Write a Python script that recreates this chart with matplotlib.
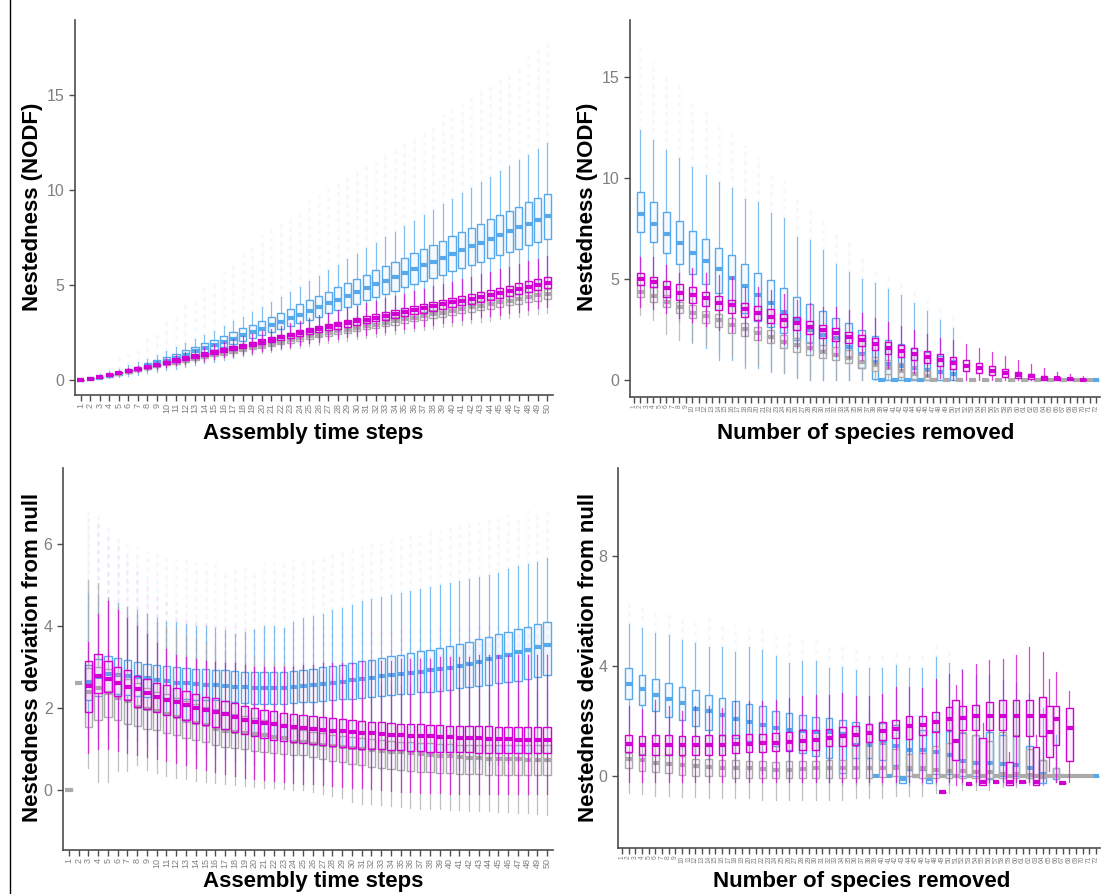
import matplotlib
matplotlib.use('Agg')
import matplotlib.pyplot as plt
from matplotlib.colors import to_rgba
from matplotlib.lines import Line2D

plt.rcParams['font.family'] = ['Liberation Sans', 'DejaVu Sans']

BLUE = '#58A8EC'
MAG = '#D200D2'
GRAY = '#ABABAB'

# ---------------- Panel A: NODF vs assembly time steps ----------------
A_cats = list(range(1, 51))
A_blue_med = [0.0,0.05,0.12,0.22,0.33,0.45,0.58,0.72,0.87,1.02,1.18,1.34,1.5,1.66,1.83,2.0,2.17,2.35,2.53,2.71,2.89,3.07,3.25,3.44,3.63,3.83,4.03,4.23,4.43,4.63,4.83,5.03,5.23,5.43,5.63,5.83,6.03,6.23,6.43,6.63,6.83,7.03,7.23,7.43,7.63,7.83,8.03,8.23,8.43,8.63]
A_blue_q1 = [0.0,0.03,0.08,0.16,0.25,0.36,0.47,0.6,0.73,0.86,1.0,1.14,1.28,1.42,1.57,1.72,1.87,2.03,2.19,2.35,2.51,2.67,2.83,3.0,3.17,3.34,3.51,3.68,3.85,4.02,4.19,4.36,4.53,4.7,4.87,5.04,5.21,5.38,5.55,5.72,5.89,6.06,6.23,6.4,6.57,6.74,6.91,7.08,7.25,7.42]
A_blue_q3 = [0.0,0.08,0.17,0.29,0.42,0.56,0.71,0.87,1.04,1.21,1.39,1.57,1.75,1.94,2.13,2.32,2.52,2.72,2.92,3.13,3.34,3.55,3.76,3.98,4.2,4.42,4.65,4.87,5.1,5.32,5.54,5.77,5.99,6.22,6.44,6.66,6.89,7.11,7.34,7.56,7.78,8.01,8.23,8.46,8.68,8.9,9.13,9.35,9.58,9.8]
A_blue_hi = [0.0,0.15,0.3,0.45,0.6,0.78,0.95,1.13,1.32,1.52,1.72,1.93,2.15,2.37,2.6,2.84,3.08,3.33,3.58,3.84,4.1,4.36,4.63,4.9,5.2,5.48,5.77,6.06,6.35,6.64,6.93,7.22,7.51,7.8,8.09,8.38,8.67,8.96,9.25,9.54,9.83,10.12,10.41,10.7,10.99,11.28,11.57,11.86,12.15,12.5]
A_blue_lo = [0.0,0.0,0.03,0.08,0.14,0.2,0.27,0.35,0.43,0.51,0.6,0.69,0.78,0.87,0.97,1.07,1.17,1.27,1.38,1.48,1.59,1.69,1.8,1.91,2.02,2.13,2.24,2.35,2.46,2.57,2.68,2.79,2.9,3.01,3.12,3.23,3.34,3.45,3.56,3.67,3.78,3.89,4.0,4.11,4.22,4.33,4.44,4.55,4.66,4.77]
A_blue_out = [0.0,0.3,0.6,0.9,1.2,1.5,1.8,2.2,2.7,3.2,3.6,4.0,4.4,4.8,5.2,5.7,6.1,6.6,7.1,7.6,8.0,8.3,8.7,9.0,9.4,9.7,10.1,10.4,10.7,11.0,11.3,11.6,11.9,12.2,12.6,12.9,13.2,13.5,13.9,14.2,14.5,14.9,15.2,15.6,15.9,16.3,16.6,17.0,17.4,17.8]

A_mag_med = [0.0,0.06,0.16,0.28,0.38,0.48,0.58,0.69,0.8,0.92,1.03,1.14,1.25,1.36,1.47,1.58,1.69,1.8,1.91,2.02,2.13,2.24,2.35,2.46,2.57,2.68,2.78,2.88,2.98,3.08,3.18,3.28,3.38,3.48,3.58,3.68,3.78,3.88,3.98,4.08,4.18,4.28,4.38,4.48,4.58,4.69,4.8,4.91,5.02,5.13]
A_mag_q1 = [0.0,0.05,0.15,0.26,0.36,0.45,0.55,0.65,0.75,0.86,0.97,1.07,1.18,1.28,1.38,1.49,1.59,1.69,1.8,1.9,2.0,2.11,2.21,2.31,2.42,2.52,2.61,2.71,2.8,2.9,2.99,3.08,3.18,3.27,3.37,3.46,3.55,3.65,3.74,3.84,3.93,4.02,4.12,4.21,4.31,4.41,4.51,4.62,4.72,4.82]
A_mag_q3 = [0.0,0.07,0.17,0.3,0.4,0.51,0.61,0.73,0.85,0.98,1.09,1.21,1.33,1.44,1.56,1.67,1.79,1.91,2.02,2.14,2.26,2.37,2.49,2.61,2.72,2.84,2.95,3.05,3.16,3.26,3.37,3.48,3.58,3.69,3.79,3.9,4.01,4.11,4.22,4.32,4.43,4.54,4.64,4.75,4.85,4.97,5.09,5.2,5.32,5.44]
A_mag_lo = [0.0,0.04,0.12,0.21,0.29,0.36,0.44,0.52,0.6,0.69,0.77,0.86,0.94,1.02,1.1,1.19,1.27,1.35,1.43,1.52,1.6,1.68,1.76,1.85,1.93,2.01,2.09,2.16,2.24,2.31,2.39,2.46,2.54,2.61,2.69,2.76,2.84,2.91,2.99,3.06,3.14,3.21,3.29,3.36,3.44,3.52,3.6,3.68,3.77,3.85]
A_mag_hi = [0.0,0.08,0.2,0.36,0.48,0.61,0.74,0.88,1.02,1.17,1.31,1.45,1.59,1.73,1.87,2.01,2.15,2.29,2.43,2.57,2.71,2.84,2.98,3.12,3.26,3.4,3.53,3.66,3.78,3.91,4.04,4.17,4.29,4.42,4.55,4.67,4.8,4.93,5.05,5.18,5.31,5.44,5.56,5.69,5.82,5.96,6.1,6.24,6.38,6.52]

A_gray_med = [0.0,0.05,0.14,0.24,0.33,0.42,0.52,0.62,0.72,0.82,0.92,1.02,1.12,1.22,1.32,1.42,1.52,1.62,1.72,1.81,1.91,2.0,2.1,2.19,2.29,2.38,2.47,2.56,2.65,2.74,2.83,2.92,3.01,3.1,3.19,3.28,3.37,3.46,3.55,3.64,3.73,3.82,3.91,4.0,4.09,4.18,4.27,4.36,4.45,4.54]
A_gray_q1 = [0.0,0.05,0.13,0.23,0.31,0.39,0.49,0.58,0.68,0.77,0.86,0.96,1.05,1.15,1.24,1.33,1.43,1.52,1.62,1.7,1.8,1.88,1.97,2.06,2.15,2.24,2.32,2.41,2.49,2.58,2.66,2.74,2.83,2.91,3.0,3.08,3.17,3.25,3.34,3.42,3.51,3.59,3.68,3.76,3.84,3.93,4.01,4.1,4.18,4.27]
A_gray_q3 = [0.0,0.05,0.15,0.25,0.35,0.45,0.55,0.66,0.76,0.87,0.98,1.08,1.19,1.29,1.4,1.51,1.61,1.72,1.82,1.92,2.02,2.12,2.23,2.32,2.43,2.52,2.62,2.71,2.81,2.9,3.0,3.1,3.19,3.29,3.38,3.48,3.57,3.67,3.76,3.86,3.95,4.05,4.14,4.24,4.34,4.43,4.53,4.62,4.72,4.81]
A_gray_lo = [0.0,0.04,0.11,0.19,0.26,0.33,0.41,0.48,0.56,0.64,0.72,0.8,0.87,0.95,1.03,1.11,1.19,1.26,1.34,1.41,1.49,1.56,1.64,1.71,1.79,1.86,1.93,2.0,2.07,2.14,2.21,2.28,2.35,2.42,2.49,2.56,2.63,2.7,2.77,2.84,2.91,2.98,3.05,3.12,3.19,3.26,3.33,3.4,3.47,3.54]
A_gray_hi = [0.0,0.06,0.17,0.29,0.4,0.5,0.62,0.74,0.86,0.98,1.1,1.22,1.34,1.46,1.58,1.7,1.82,1.94,2.06,2.17,2.29,2.4,2.52,2.63,2.75,2.86,2.96,3.07,3.18,3.29,3.4,3.5,3.61,3.72,3.83,3.94,4.04,4.15,4.26,4.37,4.48,4.58,4.69,4.8,4.91,5.02,5.12,5.23,5.34,5.45]

# ---------------- Panel B: NODF vs species removed ----------------
B_blue_cats = [2,4,6,8,10,12,14,16,18,20,22,24,26,28,30,32,34,36,38,40,42,44,46,48,50,39,41,43,45,72]
B_blue_med = [8.21,7.73,7.24,6.78,6.28,5.92,5.49,5.07,4.66,4.2,3.8,3.36,2.97,2.48,2.23,2.07,1.65,1.3,0.9,0.8,0.7,0.6,0.5,0.4,0.3,0,0,0,0,0]
B_blue_q1 = [7.35,6.83,6.28,5.73,5.24,4.74,4.3,3.83,3.3,2.94,2.64,2.31,1.98,1.82,1.49,1.3,1.1,0.6,0.05,0,0,0,0,0,0,0,0,0,0,0]
B_blue_q3 = [9.34,8.81,8.33,7.9,7.4,6.98,6.56,6.18,5.74,5.32,4.96,4.58,4.13,3.77,3.44,3.06,2.81,2.5,2.2,2.0,1.8,1.6,1.4,1.2,1.0,0,0,0,0,0]
B_blue_hi = [12.4,11.9,11.4,11.0,10.57,10.16,9.83,9.5,8.96,8.84,8.26,8.02,7.1,6.94,6.45,5.75,5.37,5.0,4.8,4.5,4.2,3.8,3.4,3.0,2.6,0,0,0,0,0]
B_blue_lo = [5.0,4.3,3.6,2.9,1.9,1.6,1.0,1.0,0.6,0.6,0.41,0.33,0.1,0,0,0,0,0,0,0,0,0,0,0,0,0,0,0,0,0]
B_blue_out = [16.5,15.8,15.2,14.6,14.0,13.4,12.8,12.2,11.6,11.0,10.4,9.8,9.2,8.6,8.0,7.4,6.8,6.2,5.6,5.2,4.8,4.4,4.0,3.6,3.2,0,0,0,0,0]

B_mag_cats = [2,4,6,8,10,12,14,16,18,20,22,24,26,28,30,32,34,36,38,40,42,44,46,48,50,52,54,56,58,60,62,64,66,68,70]
B_mag_med = [4.99,4.84,4.58,4.33,4.21,4.05,3.8,3.72,3.5,3.3,3.14,2.97,2.81,2.64,2.48,2.31,2.15,2.0,1.8,1.6,1.45,1.3,1.15,1.0,0.85,0.7,0.6,0.45,0.35,0.25,0.18,0.12,0.08,0.05,0.02]
B_mag_q1 = [4.71,4.6,4.13,3.97,3.8,3.68,3.47,3.3,3.14,2.97,2.81,2.64,2.48,2.26,2.1,1.95,1.85,1.7,1.5,1.3,1.15,1.0,0.85,0.7,0.55,0.45,0.35,0.25,0.15,0.1,0.05,0.02,0.0,0.0,0.0]
B_mag_q3 = [5.29,5.09,4.92,4.74,4.63,4.38,4.16,3.97,3.8,3.67,3.5,3.27,3.11,2.93,2.73,2.56,2.4,2.25,2.1,1.9,1.75,1.6,1.45,1.3,1.15,1.0,0.85,0.7,0.55,0.4,0.3,0.22,0.15,0.1,0.05]
B_mag_hi = [6.11,6.1,5.7,5.29,5.54,5.3,5.2,5.12,4.63,4.6,4.46,4.25,3.97,3.8,3.63,3.6,3.47,3.3,3.1,2.9,2.7,2.5,2.3,2.1,2.0,1.8,1.6,1.4,1.2,1.0,0.8,0.6,0.4,0.3,0.2]
B_mag_lo = [3.6,3.5,3.3,3.1,2.9,2.7,2.5,2.4,2.2,2.0,1.9,1.8,1.6,1.5,1.4,1.2,1.1,1.0,0.8,0.6,0.5,0.35,0.2,0.1,0,0,0,0,0,0,0,0,0,0,0]

B_gray_cats = [2,4,6,8,10,12,14,16,18,20,22,24,26,28,30,32,34,36,38,40,42,44,46,47,49,51,53,55,57,59,61,63,65,67,69,71]
B_gray_med = [4.38,4.18,3.88,3.63,3.34,3.17,2.97,2.73,2.51,2.31,2.15,1.9,1.74,1.57,1.4,1.24,1.08,0.9,0.75,0.6,0.45,0.3,0.2,0,0,0,0,0,0,0,0,0,0,0,0,0]
B_gray_q1 = [4.13,3.88,3.63,3.3,3.06,2.81,2.64,2.31,2.18,1.98,1.82,1.57,1.4,1.24,1.08,0.99,0.83,0.6,0.45,0.3,0.15,0.05,0.0,0,0,0,0,0,0,0,0,0,0,0,0,0]
B_gray_q3 = [4.71,4.63,4.21,3.88,3.72,3.44,3.27,3.06,2.84,2.64,2.48,2.23,2.07,1.9,1.74,1.65,1.49,1.3,1.15,1.0,0.85,0.65,0.5,0,0,0,0,0,0,0,0,0,0,0,0,0]
B_gray_hi = [5.4,5.3,5.1,4.9,4.6,4.4,4.2,4.0,3.8,3.6,3.4,3.2,3.0,2.8,2.6,2.4,2.2,2.0,1.8,1.6,1.4,1.2,1.0,0,0,0,0,0,0,0,0,0,0,0,0,0]
B_gray_lo = [3.22,2.97,2.3,1.98,1.82,1.75,1.32,1.16,0.83,0.75,0.5,0.33,0.17,0,0,0,0,0,0,0,0,0,0,0,0,0,0,0,0,0,0,0,0,0,0,0]

# ---------------- Panel C: deviation vs assembly time steps ----------------
C_cats = list(range(3, 51))
C_blue_med = [2.64,2.75,2.82,2.8,2.78,2.76,2.72,2.68,2.65,2.62,2.6,2.58,2.57,2.56,2.54,2.52,2.51,2.5,2.5,2.5,2.5,2.52,2.54,2.56,2.58,2.61,2.64,2.68,2.71,2.74,2.77,2.8,2.83,2.86,2.89,2.92,2.95,2.98,3.03,3.08,3.13,3.19,3.25,3.3,3.36,3.42,3.48,3.54]
C_blue_q1 = [2.2,2.3,2.37,2.35,2.32,2.3,2.28,2.27,2.25,2.24,2.22,2.2,2.2,2.2,2.18,2.15,2.13,2.11,2.11,2.11,2.11,2.12,2.14,2.15,2.17,2.19,2.21,2.23,2.25,2.27,2.29,2.31,2.33,2.35,2.38,2.4,2.42,2.45,2.48,2.51,2.54,2.57,2.6,2.63,2.66,2.7,2.75,2.8]
C_blue_q3 = [3.05,3.2,3.27,3.22,3.18,3.13,3.08,3.04,3.02,3.0,2.97,2.95,2.94,2.93,2.92,2.9,2.89,2.89,2.88,2.87,2.87,2.9,2.93,2.96,3.0,3.03,3.06,3.1,3.14,3.18,3.22,3.26,3.3,3.34,3.38,3.42,3.46,3.5,3.56,3.62,3.68,3.74,3.8,3.86,3.92,3.98,4.04,4.1]
C_blue_hi = [4.8,4.7,4.6,4.55,4.47,4.4,4.3,4.2,4.1,4.1,4.05,4.0,4.0,3.95,3.9,3.8,3.85,3.9,4.0,4.0,3.95,4.1,4.2,4.25,4.3,4.4,4.45,4.5,4.6,4.65,4.7,4.75,4.8,4.85,4.9,4.95,5.0,5.05,5.1,5.15,5.2,5.25,5.3,5.4,5.45,5.5,5.55,5.65]
C_blue_lo = [1.3,1.3,1.35,1.3,1.25,1.2,1.15,1.1,1.05,1.0,0.95,0.9,0.85,0.8,0.75,0.7,0.65,0.6,0.55,0.5,0.5,0.5,0.5,0.5,0.5,0.5,0.5,0.5,0.5,0.5,0.5,0.5,0.5,0.5,0.5,0.5,0.5,0.5,0.5,0.5,0.55,0.6,0.6,0.65,0.7,0.7,0.75,0.8]
C_blue_out = [6.9,6.8,6.5,6.2,6.0,5.9,5.8,5.8,5.7,5.6,5.6,5.5,5.5,5.5,5.4,5.4,5.4,5.4,5.5,5.5,5.5,5.6,5.6,5.7,5.7,5.8,5.8,5.9,5.9,6.0,6.0,6.1,6.1,6.2,6.2,6.3,6.3,6.4,6.4,6.5,6.5,6.6,6.6,6.7,6.7,6.8,6.8,6.9]

C_mag_med = [2.54,2.78,2.7,2.6,2.52,2.46,2.37,2.28,2.2,2.14,2.07,1.99,1.95,1.91,1.85,1.79,1.72,1.67,1.64,1.6,1.57,1.54,1.52,1.5,1.47,1.45,1.43,1.41,1.39,1.38,1.36,1.35,1.34,1.33,1.32,1.31,1.3,1.29,1.28,1.27,1.26,1.25,1.25,1.24,1.23,1.23,1.22,1.22]
C_mag_q1 = [1.9,2.37,2.4,2.3,2.2,2.03,1.97,1.9,1.83,1.77,1.7,1.63,1.58,1.54,1.48,1.42,1.36,1.31,1.27,1.23,1.2,1.17,1.14,1.12,1.09,1.07,1.05,1.03,1.01,1.0,0.99,0.98,0.97,0.96,0.95,0.94,0.93,0.93,0.92,0.92,0.91,0.91,0.9,0.9,0.9,0.9,0.9,0.9]
C_mag_q3 = [3.15,3.32,3.15,3.0,2.93,2.77,2.7,2.62,2.55,2.48,2.41,2.34,2.28,2.24,2.18,2.12,2.06,2.0,1.96,1.92,1.89,1.86,1.83,1.8,1.77,1.75,1.73,1.71,1.69,1.67,1.65,1.64,1.62,1.61,1.6,1.59,1.58,1.57,1.56,1.56,1.55,1.55,1.54,1.54,1.54,1.54,1.54,1.54]
C_mag_hi = [3.6,4.3,4.6,4.4,4.2,4.0,3.8,3.58,3.45,3.3,3.25,3.2,3.15,3.12,3.1,3.1,3.05,3.0,3.0,3.0,3.0,3.0,3.05,3.05,3.1,3.1,3.1,3.1,3.15,3.15,3.15,3.15,3.2,3.2,3.2,3.2,3.25,3.25,3.25,3.25,3.3,3.3,3.3,3.3,3.3,3.3,3.3,3.3]
C_mag_lo = [0.9,1.0,1.0,0.95,0.9,0.85,0.8,0.75,0.7,0.65,0.6,0.55,0.5,0.45,0.4,0.35,0.3,0.28,0.25,0.22,0.2,0.18,0.16,0.14,0.12,0.1,0.08,0.06,0.04,0.02,0.0,-0.02,-0.04,-0.05,-0.06,-0.07,-0.08,-0.09,-0.1,-0.1,-0.1,-0.1,-0.1,-0.1,-0.1,-0.1,-0.1,-0.1]
C_mag_out = [6.6,6.5,6.3,6.0,5.7,5.4,5.1,4.8,4.6,4.4,4.3,4.2,4.1,4.0,4.0,4.0,4.0,4.0,4.0,4.0,4.0,4.0,4.0,4.0,4.0,4.0,4.0,4.0,4.0,4.0,4.0,4.0,4.0,4.0,4.0,4.0,4.0,4.0,4.0,4.0,4.0,4.0,4.0,4.0,4.0,4.0,4.0,4.0]

C_gray_cats = list(range(1, 51))
C_gray_med = [0,2.6,2.4,2.48,2.37,2.24,2.17,2.03,1.97,1.92,1.85,1.79,1.68,1.63,1.59,1.5,1.45,1.42,1.4,1.37,1.34,1.3,1.26,1.18,1.16,1.13,1.1,1.07,1.05,1.02,1.0,0.98,0.96,0.94,0.92,0.9,0.88,0.86,0.84,0.82,0.8,0.79,0.78,0.77,0.76,0.75,0.75,0.74,0.74,0.73]
C_gray_q1 = [0,2.6,1.54,1.7,1.78,1.7,1.62,1.55,1.5,1.46,1.4,1.35,1.28,1.22,1.17,1.1,1.06,1.02,0.99,0.96,0.93,0.9,0.87,0.85,0.85,0.8,0.76,0.72,0.68,0.64,0.6,0.57,0.54,0.51,0.49,0.47,0.45,0.43,0.42,0.41,0.4,0.39,0.39,0.38,0.38,0.37,0.37,0.37,0.37,0.37]
C_gray_q3 = [0,2.6,2.98,3.0,2.95,2.8,2.7,2.6,2.5,2.4,2.33,2.25,2.17,2.1,2.03,1.97,1.91,1.85,1.8,1.75,1.7,1.65,1.6,1.5,1.46,1.42,1.38,1.35,1.32,1.29,1.26,1.24,1.22,1.2,1.18,1.16,1.15,1.14,1.13,1.12,1.11,1.1,1.1,1.1,1.1,1.1,1.1,1.1,1.1,1.1]
C_gray_hi = [0,2.6,5.12,5.04,4.7,4.5,4.4,4.3,4.2,4.1,4.0,3.9,3.8,3.7,3.6,3.5,3.4,3.35,3.3,3.25,3.2,3.15,3.1,3.05,3.0,2.95,2.9,2.85,2.8,2.75,2.7,2.65,2.6,2.6,2.55,2.55,2.5,2.5,2.5,2.5,2.45,2.45,2.45,2.45,2.45,2.45,2.45,2.45,2.45,2.45]
C_gray_lo = [0,2.6,0.53,0.2,0.2,0.46,0.46,0.6,0.5,0.41,0.35,0.3,0.27,0.23,0.2,0.18,0.15,0.12,0.1,0.08,0.06,0.04,0.02,0.0,0.0,-0.05,-0.1,-0.15,-0.2,-0.3,-0.33,-0.35,-0.37,-0.39,-0.41,-0.43,-0.45,-0.46,-0.47,-0.48,-0.49,-0.5,-0.51,-0.52,-0.53,-0.54,-0.55,-0.56,-0.58,-0.6]

# ---------------- Panel D: deviation vs species removed ----------------
D_blue_cats = [2,4,6,8,10,12,14,16,18,20,22,24,26,28,30,32,34,36,38,40,42,44,46,48,50,52,54,56,58,60,62,64,66,39,41,43,45,47,72]
D_blue_med = [3.36,3.18,2.95,2.82,2.67,2.46,2.39,2.24,2.1,1.96,1.85,1.76,1.7,1.64,1.6,1.6,1.55,1.15,1.15,1.2,1.1,0.97,0.95,0.9,0.79,0.55,0.5,0.5,0.45,0.4,0.3,0.1,0.0,0,0,-0.1,0,-0.1,0]
D_blue_q1 = [2.82,2.6,2.39,2.16,2.06,1.84,1.67,1.52,1.4,1.27,1.21,1.09,0.97,0.85,0.73,0.67,0.12,0.67,0.67,0.6,0.42,0.24,0.24,0.1,0.1,0.0,0.0,-0.1,0.0,0.0,0.0,-0.23,-0.1,0,0,-0.24,0,-0.24,0]
D_blue_q3 = [3.92,3.7,3.55,3.4,3.24,3.12,2.95,2.85,2.75,2.64,2.55,2.39,2.3,2.22,2.16,2.12,2.06,1.96,1.92,1.94,1.88,1.82,1.7,1.64,1.64,1.58,1.5,1.6,1.5,1.45,1.09,0.6,0.3,0,0,0,0,0,0]
D_blue_hi = [5.52,5.4,5.21,5.15,4.95,4.85,4.7,4.7,4.51,4.7,4.6,4.36,4.12,4.18,4.18,3.94,3.98,3.85,3.95,3.95,4.06,3.95,3.95,4.34,4.12,3.9,3.7,3.7,3.5,3.4,3.0,2.5,1.5,0,0,0,0,0,0]
D_blue_lo = [1.8,1.6,1.4,1.2,1.0,0.8,0.6,0.4,0.3,0.2,0.1,0.0,-0.1,-0.2,-0.2,-0.25,-0.3,-0.3,-0.3,-0.3,-0.3,-0.3,-0.3,-0.3,-0.3,-0.3,-0.3,-0.3,-0.3,-0.3,-0.2,-0.3,-0.2,0,0,-0.24,0,-0.24,0]
D_blue_out = [6.4,6.3,6.1,6.0,5.9,5.8,5.7,5.6,5.5,5.4,5.3,5.2,5.1,5.0,4.9,4.8,4.7,4.6,4.5,4.5,4.6,4.5,4.5,4.8,4.6,0,0,0,0,0,0,0,0,0,0,0,0,0,0]

D_mag_cats = [2,4,6,8,10,12,14,16,18,20,22,24,26,28,30,32,34,36,38,40,42,44,46,48,50,52,54,56,58,60,62,64,66,68,49,51,53,55,57,59,61,63,65,67]
D_mag_med = [1.18,1.13,1.13,1.15,1.13,1.13,1.15,1.15,1.18,1.18,1.2,1.22,1.24,1.28,1.33,1.4,1.45,1.52,1.58,1.64,1.73,1.82,1.88,1.96,2.09,2.12,2.18,2.2,2.2,2.18,2.18,2.2,2.09,1.76,-0.58,1.3,-0.27,-0.2,-0.2,-0.2,-0.2,-0.2,1.6,-0.25]
D_mag_q1 = [0.89,0.79,0.79,0.79,0.76,0.79,0.79,0.79,0.85,0.89,0.88,0.91,0.94,0.95,0.97,1.09,1.09,1.15,1.24,1.33,1.38,1.36,1.52,1.6,1.67,1.7,1.67,1.7,1.7,1.45,1.45,1.45,1.15,0.55,-0.58,0.6,-0.27,-0.3,-0.2,-0.3,-0.2,-0.3,0.7,-0.25]
D_mag_q3 = [1.49,1.45,1.52,1.52,1.45,1.45,1.52,1.52,1.52,1.55,1.55,1.58,1.62,1.67,1.7,1.73,1.79,1.84,1.92,1.96,2.04,2.18,2.21,2.33,2.51,2.57,2.61,2.69,2.79,2.79,2.79,2.87,2.57,2.47,-0.58,2.79,-0.27,1.39,-0.2,0.52,-0.2,1.06,2.57,-0.25]
D_mag_hi = [2.55,2.46,2.79,2.55,2.37,2.55,2.55,2.49,2.73,2.73,2.73,2.79,2.85,2.92,2.97,2.97,3.03,2.91,2.91,3.0,3.24,3.24,3.2,3.52,3.73,3.88,4.1,4.22,4.27,4.42,4.7,4.51,3.78,3.09,-0.58,3.33,-0.27,1.94,-0.2,0.9,-0.2,1.5,3.52,-0.25]
D_mag_lo = [-0.2,-0.2,-0.2,-0.2,-0.2,-0.2,-0.2,-0.2,-0.2,-0.2,-0.2,-0.2,-0.2,-0.2,-0.2,-0.2,-0.2,-0.2,-0.2,-0.2,-0.2,-0.2,-0.2,-0.2,-0.2,-0.2,-0.2,-0.2,-0.2,-0.2,-0.2,-0.2,-0.2,-0.2,-0.58,-0.3,-0.27,-0.3,-0.2,-0.3,-0.2,-0.3,0.2,-0.25]

D_gray_cats = [2,4,6,8,10,12,14,16,18,20,22,24,26,28,30,32,34,36,38,40,42,44,46,48,50,52,54,56,58,60,62,64,66,45,47,49,51,53,55,57,59,61,63,65,67,68,69,70,71]
D_gray_med = [0.63,0.58,0.5,0.46,0.4,0.37,0.34,0.31,0.29,0.29,0.27,0.24,0.24,0.27,0.29,0.3,0.3,0.3,0.3,0.3,0.3,0.3,0.3,0.25,0.2,0.2,0.15,0.15,0.1,0.1,0.05,0.0,0.0,0,0,0,0,0,0,0,0,0,0,0,0,0,0,0,0]
D_gray_q1 = [0.3,0.2,0.15,0.12,0.06,0.03,0.0,0.0,-0.04,-0.04,-0.06,-0.06,-0.06,-0.04,-0.04,-0.06,-0.04,-0.06,-0.06,-0.03,0.0,0.0,-0.06,-0.06,-0.06,-0.06,-0.06,-0.06,-0.06,-0.06,-0.06,-0.06,0.0,0,0,0,0,0,0,0,0,0,0,0,0,0,0,0,0]
D_gray_q3 = [0.85,0.82,0.79,0.81,0.75,0.63,0.63,0.6,0.58,0.56,0.55,0.52,0.55,0.55,0.55,0.58,0.58,1.15,1.24,1.2,1.0,0.8,0.85,1.1,1.2,1.6,1.5,1.3,1.6,1.5,1.0,0.6,0.3,0,0,0,0,0,0,0,0,0,0,0,0,0,0,0,0]
D_gray_hi = [1.8,1.75,1.7,1.7,1.65,1.6,1.6,1.55,1.55,1.5,1.5,1.5,1.5,1.5,1.5,1.5,1.5,2.3,2.4,2.3,2.0,1.8,1.9,2.2,2.4,2.8,2.7,2.5,2.8,2.7,2.0,1.3,0.7,0,0,0,0,0,0,0,0,0,0,0,0,0,0,0,0]
D_gray_lo = [-0.6,-0.65,-0.7,-0.7,-0.75,-0.75,-0.8,-0.8,-0.8,-0.8,-0.85,-0.85,-0.85,-0.85,-0.85,-0.85,-0.85,-0.8,-0.8,-0.8,-0.7,-0.7,-0.7,-0.6,-0.6,-0.5,-0.5,-0.5,-0.4,-0.4,-0.3,-0.3,-0.2,0,0,0,0,0,0,0,0,0,0,0,0,0,0,0,0]

# ---------------- Drawing ----------------
W, H = 1104, 894
fig = plt.figure(figsize=(W / 100, H / 100), dpi=100)


def px_axes(x0, y0, x1, y1):
    return fig.add_axes([x0 / W, 1 - y1 / H, (x1 - x0) / W, (y1 - y0) / H])


def draw(ax, cats, lo, q1, med, q3, hi, color, width, z):
    n = min(len(cats), len(lo), len(q1), len(med), len(q3), len(hi))
    stats = [dict(whislo=lo[i], q1=q1[i], med=med[i], q3=q3[i], whishi=hi[i], fliers=[])
             for i in range(n)]
    ax.bxp(stats, positions=cats[:n], widths=width, patch_artist=True,
           showfliers=False, showcaps=False, manage_ticks=False, zorder=z,
           boxprops=dict(facecolor=to_rgba(color, 0.06), edgecolor=color, linewidth=1.0),
           medianprops=dict(color=color, linewidth=3.0, solid_capstyle='butt'),
           whiskerprops=dict(color=color, linewidth=0.9, alpha=0.75))


def haze(ax, cats, hi, out, color):
    # faint column standing for the sparse outlying points above the whisker
    for c, h, o in zip(cats, hi, out):
        if o > h:
            ax.plot([c, c], [h, o], color=color, alpha=0.07, linewidth=1.8,
                    linestyle=(0, (1, 2.5)), dash_capstyle='round', zorder=1)


def style(ax, ncat, xlim, ylim, yticks, xfs):
    ax.set_xlim(*xlim)
    ax.set_ylim(*ylim)
    ax.set_xticks(list(range(1, ncat + 1)))
    ax.set_xticklabels([str(i) for i in range(1, ncat + 1)], rotation=90,
                       fontsize=xfs, color='#808080')
    ax.set_yticks(yticks)
    ax.set_yticklabels([str(t) for t in yticks], fontsize=11.5, color='#808080')
    for s in ['top', 'right']:
        ax.spines[s].set_visible(False)
    for s in ['left', 'bottom']:
        ax.spines[s].set_color('#4D4D4D')
        ax.spines[s].set_linewidth(1.2)
    ax.tick_params(axis='both', color='#4D4D4D', length=4, width=1)
    ax.tick_params(axis='x', pad=1.5)
    ax.patch.set_alpha(0)


axA = px_axes(75, 20, 553, 395)
haze(axA, A_cats, A_blue_hi, A_blue_out, BLUE)
draw(axA, A_cats, A_blue_lo, A_blue_q1, A_blue_med, A_blue_q3, A_blue_hi, BLUE, 0.75, 2)
draw(axA, A_cats, A_gray_lo, A_gray_q1, A_gray_med, A_gray_q3, A_gray_hi, GRAY, 0.75, 3)
draw(axA, A_cats, A_mag_lo, A_mag_q1, A_mag_med, A_mag_q3, A_mag_hi, MAG, 0.75, 4)
style(axA, 50, (0.4, 50.6), (-0.79, 18.95), [0, 5, 10, 15], 6.5)

axB = px_axes(630, 20, 1100, 397)
haze(axB, B_blue_cats, B_blue_hi, B_blue_out, BLUE)
draw(axB, B_blue_cats, B_blue_lo, B_blue_q1, B_blue_med, B_blue_q3, B_blue_hi, BLUE, 1.0, 2)
draw(axB, B_gray_cats, B_gray_lo, B_gray_q1, B_gray_med, B_gray_q3, B_gray_hi, GRAY, 1.0, 3)
draw(axB, B_mag_cats, B_mag_lo, B_mag_q1, B_mag_med, B_mag_q3, B_mag_hi, MAG, 1.0, 4)
style(axB, 72, (0.4, 72.6), (-0.84, 17.85), [0, 5, 10, 15], 4.8)

axC = px_axes(63, 468, 553, 850)
haze(axC, C_cats, C_blue_hi, C_blue_out, BLUE)
haze(axC, C_cats, C_mag_hi, C_mag_out, MAG)
draw(axC, C_cats, C_blue_lo, C_blue_q1, C_blue_med, C_blue_q3, C_blue_hi, BLUE, 0.75, 2)
draw(axC, C_gray_cats, C_gray_lo, C_gray_q1, C_gray_med, C_gray_q3, C_gray_hi, GRAY, 0.75, 3)
draw(axC, C_cats, C_mag_lo, C_mag_q1, C_mag_med, C_mag_q3, C_mag_hi, MAG, 0.75, 4)
style(axC, 50, (0.4, 50.6), (-1.46, 7.85), [0, 2, 4, 6], 6.5)

axD = px_axes(618, 468, 1100, 848)
haze(axD, D_blue_cats, D_blue_hi, D_blue_out, BLUE)
draw(axD, D_blue_cats, D_blue_lo, D_blue_q1, D_blue_med, D_blue_q3, D_blue_hi, BLUE, 1.0, 2)
draw(axD, D_gray_cats, D_gray_lo, D_gray_q1, D_gray_med, D_gray_q3, D_gray_hi, GRAY, 1.0, 3)
draw(axD, D_mag_cats, D_mag_lo, D_mag_q1, D_mag_med, D_mag_q3, D_mag_hi, MAG, 1.0, 4)
style(axD, 72, (0.4, 72.6), (-2.6, 11.2), [0, 4, 8], 4.8)

lab = dict(fontsize=16, fontweight='bold', color='black', ha='center', va='center')
fig.text(313 / W, 1 - 433 / H, 'Assembly time steps', **lab)
fig.text(866 / W, 1 - 433 / H, 'Number of species removed', **lab)
fig.text(313 / W, 1 - 881 / H, 'Assembly time steps', **lab)
fig.text(862 / W, 1 - 881 / H, 'Number of species removed', **lab)
fig.text(33 / W, 1 - 207 / H, 'Nestedness (NODF)', rotation=90, **lab)
fig.text(588 / W, 1 - 207 / H, 'Nestedness (NODF)', rotation=90, **lab)
fig.text(33 / W, 1 - 657 / H, 'Nestedness deviation from null', rotation=90, **lab)
fig.text(588 / W, 1 - 657 / H, 'Nestedness deviation from null', rotation=90, **lab)

fig.add_artist(Line2D([10 / W, 10 / W], [0, 1], color='black', linewidth=1.0))

fig.savefig('out.png', dpi=100)
